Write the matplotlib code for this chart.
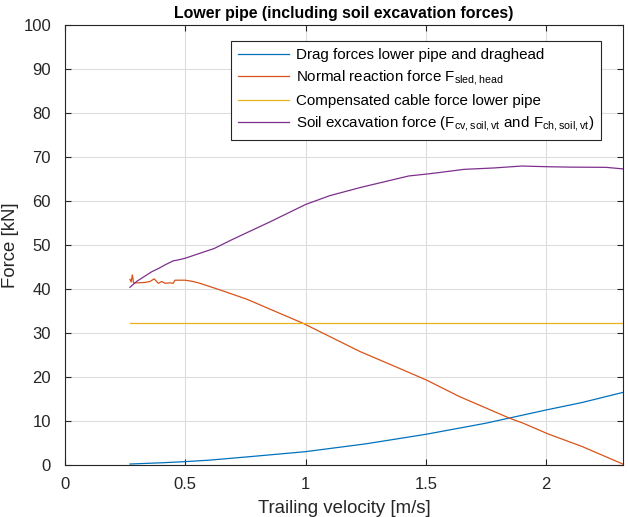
import numpy as np
import matplotlib
matplotlib.use('Agg')
import matplotlib.pyplot as plt

plt.rcParams['font.family'] = ['Liberation Sans', 'DejaVu Sans']
plt.rcParams['mathtext.fontset'] = 'custom'
plt.rcParams['mathtext.rm'] = 'Liberation Sans'

# drag forces on lower pipe + draghead
v_drag = [0.27, 0.4, 0.5, 0.6, 0.77, 1.0, 1.25, 1.5, 1.75, 2.0, 2.15, 2.32]
f_drag = [0.22, 0.5, 0.76, 1.1, 1.9, 3.03, 4.8, 6.97, 9.5, 12.5, 14.2, 16.5]

# normal reaction force on sled / head
v_normal = [0.27, 0.275, 0.28, 0.285, 0.305, 0.332, 0.353, 0.371, 0.388, 0.402,
            0.416, 0.436, 0.450, 0.457, 0.50, 0.533, 0.561, 0.644, 0.755, 0.99,
            1.226, 1.406, 1.503, 1.642, 1.85, 1.905, 2.009, 2.15, 2.32]
f_normal = [42.2, 41.6, 43.2, 41.4, 41.4, 41.5, 41.7, 42.3, 41.3, 41.7,
            41.3, 41.4, 41.3, 42.0, 42.0, 41.7, 41.3, 39.8, 37.7, 32.2,
            25.8, 21.6, 19.3, 15.5, 10.6, 9.5, 7.05, 4.2, 0.2]

# compensated cable force
v_cable = [0.27, 2.32]
f_cable = [32.2, 32.2]

# soil excavation force
v_soil = [0.27, 0.30, 0.32, 0.36, 0.39, 0.42, 0.45, 0.47, 0.50, 0.56, 0.62, 0.69,
          0.76, 0.85, 1.0, 1.1, 1.23, 1.33, 1.43, 1.5, 1.56, 1.66, 1.78, 1.9,
          2.0, 2.1, 2.25, 2.32]
f_soil = [40.4, 41.8, 42.5, 43.9, 44.7, 45.6, 46.4, 46.6, 47.0, 48.1, 49.2, 51.1,
          52.9, 55.2, 59.2, 61.2, 63.1, 64.4, 65.7, 66.1, 66.5, 67.2, 67.5, 67.95,
          67.8, 67.7, 67.65, 67.3]

fig = plt.figure(figsize=(6.28, 5.17), dpi=100)
ax = fig.add_axes([0.1035, 0.1006, 0.8885, 0.851])

lw = 0.9
ax.plot(v_drag, f_drag, color='#0072BD', lw=lw,
        label='Drag forces lower pipe and draghead')
ax.plot(v_normal, f_normal, color='#D95319', lw=lw,
        label=r'Normal reaction force F$_\mathregular{sled,head}$')
ax.plot(v_cable, f_cable, color='#EDB120', lw=lw,
        label='Compensated cable force lower pipe')
ax.plot(v_soil, f_soil, color='#7E2F8E', lw=lw,
        label=r'Soil excavation force (F$_\mathregular{cv,soil,vt}$ and F$_\mathregular{ch,soil,vt}$)')

ax.set_xlim(0, 2.32)
ax.set_ylim(0, 100)
ax.set_xticks([0, 0.5, 1, 1.5, 2])
ax.set_xticklabels(['0', '0.5', '1', '1.5', '2'])
ax.set_yticks(np.arange(0, 101, 10))
ax.grid(True, color='#dcdcdc', lw=0.8)
ax.set_axisbelow(True)
ax.tick_params(direction='in', top=True, right=True, length=4, width=0.8,
               labelsize=12, colors='0.15')
ax.tick_params(axis='x', pad=8.5)
ax.tick_params(axis='y', pad=10)
for s in ax.spines.values():
    s.set_color('0.15')
    s.set_linewidth(0.8)

ax.set_xlabel('Trailing velocity [m/s]', fontsize=13.4, color='0.15', labelpad=6)
ax.set_ylabel('Force [kN]', fontsize=13.4, color='0.15')
ax.yaxis.set_label_coords(-0.083, 0.5)
ax.set_title('Lower pipe (including soil excavation forces)', fontsize=11.4,
             fontweight='bold', pad=5)

leg = ax.legend(loc='upper right', bbox_to_anchor=(0.961, 0.9636), fontsize=10.9,
                fancybox=False, framealpha=1, edgecolor='0.15',
                handlelength=3.4, borderpad=0.45, labelspacing=0.42,
                handletextpad=0.45, borderaxespad=0)
leg.get_frame().set_linewidth(0.8)

fig.savefig('out.png', dpi=100)
